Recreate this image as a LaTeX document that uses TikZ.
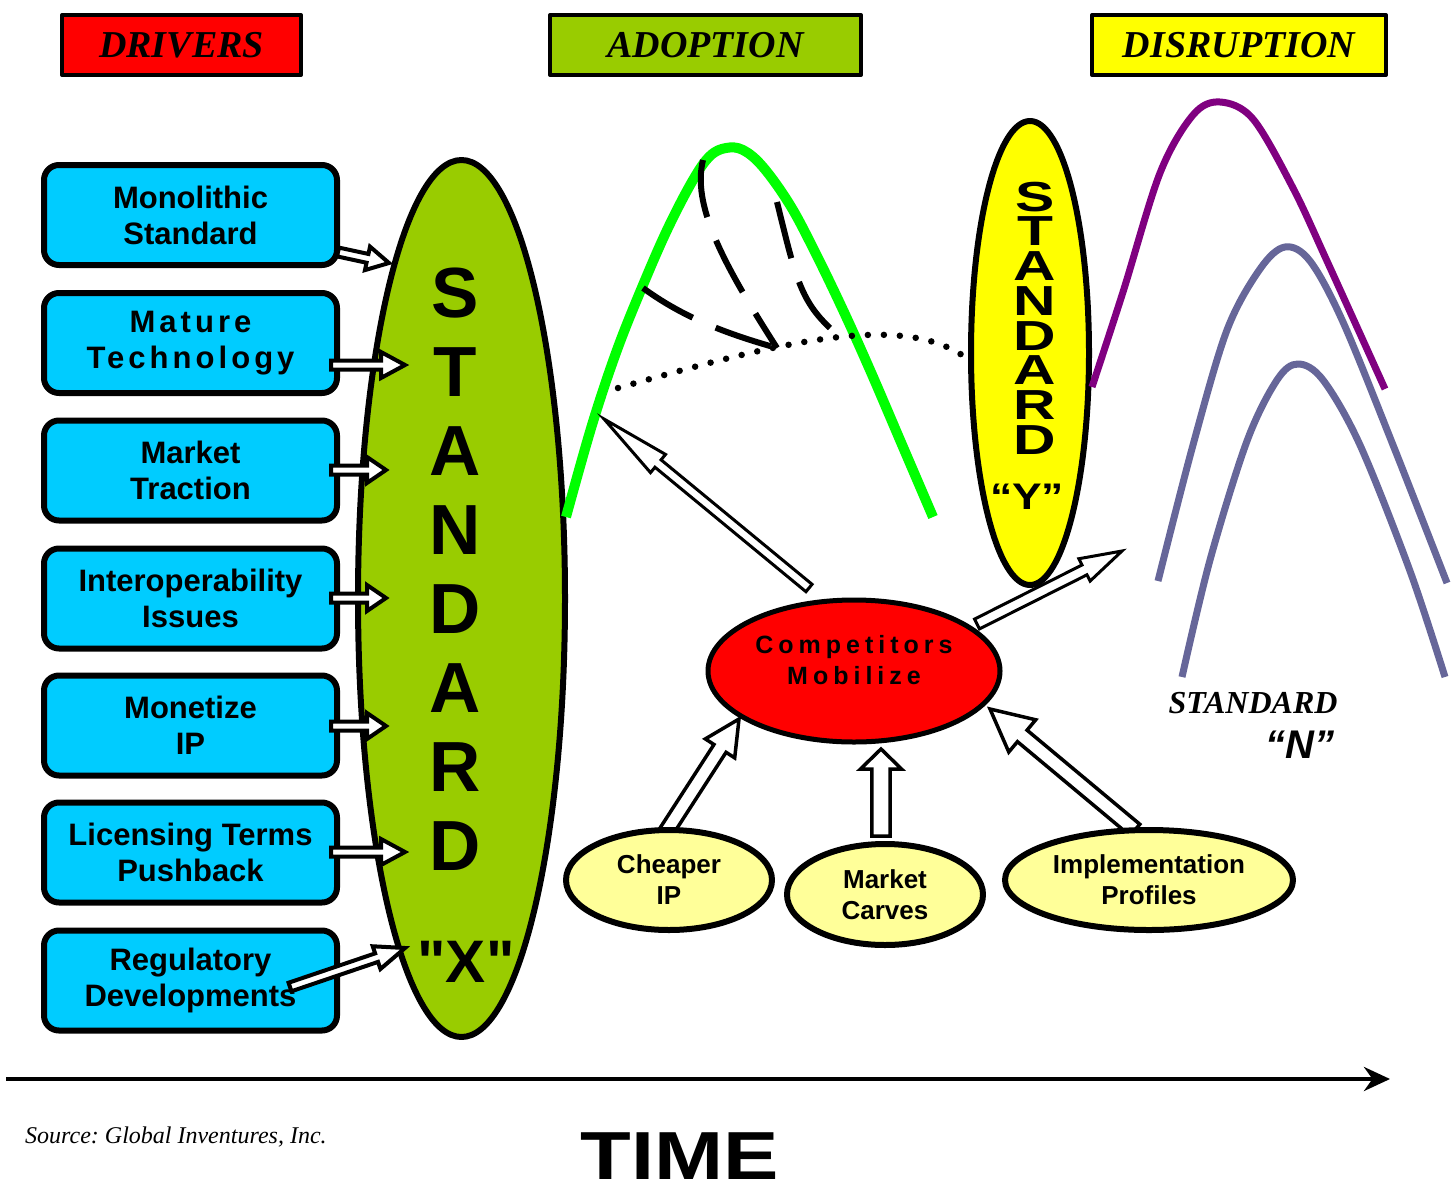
\documentclass[tikz,border=0pt]{standalone}
\usepackage{fontspec}
\setmainfont{Liberation Sans}
\newfontfamily\serifface{Liberation Serif}
\newfontfamily\plainsans{Liberation Sans}
\usepackage{graphicx}
\usetikzlibrary{arrows.meta,calc,shapes.geometric}

\definecolor{driverred}{HTML}{FF0000}
\definecolor{adoptgreen}{HTML}{99CC00}
\definecolor{disyellow}{HTML}{FFFF00}
\definecolor{drvblue}{HTML}{00CCFF}
\definecolor{bellgreen}{HTML}{00FF00}
\definecolor{bellpurple}{HTML}{800080}
\definecolor{belllavender}{HTML}{666699}
\definecolor{paleyellow}{HTML}{FFFF99}

\newcommand\drvfont{\fontsize{31}{36}\selectfont\bfseries}
\newcommand\ovalfont{\fontsize{26}{31}\selectfont\bfseries}

% block arrow: [style]{tail}{tip}{half shaft}{half head}{head length}
\newcommand\fatarrow[6][]{%
  \coordinate (fa-base) at ($(#3)!#6!(#2)$);
  \draw[fatarrow,#1] ($(#2)!#4!90:(#3)$) -- ($(fa-base)!#4!90:(#3)$)
    -- ($(fa-base)!#5!90:(#3)$) -- (#3) -- ($(fa-base)!#5!-90:(#3)$)
    -- ($(fa-base)!#4!-90:(#3)$) -- ($(#2)!#4!-90:(#3)$) -- cycle;}

\begin{document}
\frenchspacing
\begin{tikzpicture}[x=1pt,y=-1pt,line join=round,
  titlebox/.style={draw,line width=4pt,minimum height=60pt,inner sep=0pt,
    font=\serifface\fontsize{38}{38}\selectfont\bfseries\itshape},
  drvbox/.style={draw,line width=6pt,fill=drvblue,rounded corners=15pt,
    minimum width=293pt,minimum height=100pt,inner sep=0pt,align=center,font=\drvfont},
  bigletter/.style={inner sep=0pt,text height=51pt,text depth=0pt,
    font=\fontsize{71}{71}\selectfont\bfseries},
  smallletter/.style={inner sep=0pt,text height=30pt,text depth=0pt,
    font=\fontsize{42}{42}\selectfont\bfseries},
  oval/.style={ellipse,draw,line width=6pt,fill=paleyellow,inner sep=0pt,
    align=center,font=\ovalfont},
  fatarrow/.style={draw=black,fill=white,line width=3pt,line join=miter},
  drvarrow/.style={line width=4pt},
  dashline/.style={line width=6pt,dash pattern=on 58pt off 25pt,line cap=butt},
  dotline/.style={line width=6.5pt,line cap=round,dash pattern=on 0pt off 16pt},
  bell/.style={line width=7pt,line cap=butt}]
  \useasboundingbox (0,0) rectangle (1451,1186);

  % headings
  \node[titlebox,fill=driverred,minimum width=239pt] (drivers) at (181.5,45) {DRIVERS};
  \node[titlebox,fill=adoptgreen,minimum width=311pt] (adoption) at (705.5,45) {ADOPTION};
  \node[titlebox,fill=disyellow,minimum width=294pt] (disruption) at (1239,45) {DISRUPTION};

  % standard X
  \node[ellipse,draw,line width=6pt,fill=adoptgreen,minimum width=207pt,
    minimum height=877pt,inner sep=0pt] (stdx) at (461.5,598.5) {};
  \foreach \ch [count=\i] in {S,T,A,N,D,A,R,D}
    \node[bigletter] (sx\i) at (455,{213+79*\i}) {\ch};
  \node[inner sep=0pt,font=\plainsans\fontsize{60}{60}\selectfont\bfseries] (xname) at (466,962) {"X"};

  % drivers
  \node[drvbox] (mono) at (190.5,215) {Monolithic\\Standard};
  \node[drvbox,font=\drvfont\addfontfeature{LetterSpace=13}] (mature) at (190.5,343) {Mature\\Technology};
  \node[drvbox] (traction) at (190.5,470.5) {Market\\Traction};
  \node[drvbox] (interop) at (190.5,598.5) {Interoperability\\Issues};
  \node[drvbox] (monetize) at (190.5,725.5) {Monetize\\IP};
  \node[drvbox] (licensing) at (190.5,852.5) {Licensing Terms\\Pushback};
  \node[drvbox] (regulatory) at (190.5,980.5) {Regulatory\\Developments};

  \coordinate (monotail) at (338,252);
  \coordinate (monotip) at (389,263);
  \coordinate (maturetail) at (331,365);
  \coordinate (maturetip) at (405,365);
  \coordinate (tractiontail) at (331,470);
  \coordinate (tractiontip) at (386,470);
  \coordinate (interoptail) at (331,598);
  \coordinate (interoptip) at (386,598);
  \coordinate (monetizetail) at (331,726);
  \coordinate (monetizetip) at (386,726);
  \coordinate (licensingtail) at (331,852);
  \coordinate (licensingtip) at (405,852);
  \coordinate (regulatorytail) at (290,987);
  \coordinate (regulatorytip) at (405,948);
  \fatarrow[drvarrow]{monotail}{monotip}{4.5pt}{12pt}{22pt}
  \fatarrow[drvarrow]{maturetail}{maturetip}{4.5pt}{13pt}{24pt}
  \fatarrow[drvarrow]{tractiontail}{tractiontip}{4.5pt}{13pt}{19pt}
  \fatarrow[drvarrow]{interoptail}{interoptip}{4.5pt}{13pt}{19pt}
  \fatarrow[drvarrow]{monetizetail}{monetizetip}{4.5pt}{13pt}{19pt}
  \fatarrow[drvarrow]{licensingtail}{licensingtip}{4.5pt}{13pt}{24pt}
  \fatarrow[drvarrow]{regulatorytail}{regulatorytip}{4.5pt}{12pt}{30pt}

  % adoption curve
  \draw[bellgreen,line width=10pt,line cap=butt] plot[smooth,tension=0.6] coordinates
    {(566,517) (592,425) (617,350) (643,285) (668,228) (693,180) (710,156) (726,148)
     (743,150) (763,167) (790,205) (815,252) (843,310) (870,370) (900,440) (933,517)};
  \coordinate (meet) at (777,348);
  \draw[dashline] (643,288) .. controls (680,315) and (720,332) .. (meet);
  \draw[dashline] (703,160) .. controls (692,205) and (722,262) .. (meet);
  \draw[dashline] (777,202) .. controls (795,275) and (800,300) .. (830,328);
  \draw[dotline] (618,388) .. controls (780,342) and (900,312) .. (965,357);

  % standard Y
  \node[ellipse,draw,line width=6pt,fill=disyellow,minimum width=118pt,
    minimum height=464pt,inner sep=0pt] (stdy) at (1030,353) {};
  \foreach \ch [count=\i] in {S,T,A,N,D,A,R,D}
    \node[smallletter] (sy\i) at (1035,{161.25+34.75*\i}) {\scalebox{1.4}[1]{\ch}};
  \node[inner sep=0pt,font=\fontsize{37}{37}\selectfont\bfseries] (yname) at (1027,497) {\scalebox{1.2}[1]{“Y”}};

  % disruption curves
  \draw[bell,bellpurple] plot[smooth,tension=0.55] coordinates
    {(1092,387) (1123,292) (1160,173) (1193,115) (1220,102) (1253,119) (1293,188) (1327,261) (1385,389)};
  \draw[bell,belllavender] plot[smooth,tension=0.55] coordinates
    {(1158,581) (1193,445) (1227,330) (1260,269) (1285,247) (1310,261) (1343,322) (1393,445) (1447,583)};
  \draw[bell,belllavender] plot[smooth,tension=0.55] coordinates
    {(1182,677) (1210,560) (1247,441) (1277,380) (1298,364) (1323,380) (1360,445) (1410,571) (1445,677)};
  \node[inner sep=0pt,font=\serifface\fontsize{32}{32}\selectfont\bfseries\itshape] (stdnname) at (1253,703) {STANDARD};
  \node[inner sep=0pt,font=\fontsize{40}{40}\selectfont\bfseries\itshape] (nname) at (1300,745) {“N”};

  % competitors
  \node[ellipse,draw,line width=5pt,fill=driverred,minimum width=292pt,
    minimum height=142pt,inner sep=0pt] (comp) at (854,671) {};
  \node[align=center,inner sep=0pt,
    font=\fontsize{25}{31}\selectfont\bfseries\addfontfeature{LetterSpace=20}] (comptext) at (854,660) {Competitors\\Mobilize};

  \coordinate (curvetail) at (809,588);
  \coordinate (curvetip) at (604,419);
  \coordinate (righttail) at (977,624);
  \coordinate (righttip) at (1122,551);
  \coordinate (cheapertail) at (666,832);
  \coordinate (cheapertip) at (739,719);
  \coordinate (carvestail) at (881,836);
  \coordinate (carvestip) at (881,749);
  \coordinate (profilestail) at (1135,830);
  \coordinate (profilestip) at (990,709);
  \fatarrow{curvetail}{curvetip}{4.8pt}{11.8pt}{70pt}
  \fatarrow{righttail}{righttip}{5.5pt}{12.5pt}{42pt}
  \fatarrow[line width=3.5pt]{cheapertail}{cheapertip}{7.2pt}{17.5pt}{35pt}
  \fatarrow[line width=3.5pt]{carvestail}{carvestip}{9.2pt}{20.5pt}{20pt}
  \fatarrow[line width=3.5pt]{profilestail}{profilestip}{7.5pt}{21pt}{42pt}

  \node[oval,minimum width=206pt,minimum height=100pt] (cheaper) at (669,880) {Cheaper\\IP};
  \node[oval,minimum width=196pt,minimum height=101pt] (carves) at (885,894.5) {Market\\Carves};
  \node[oval,minimum width=288pt,minimum height=100pt] (profiles) at (1149,880) {Implementation\\Profiles};

  % time axis
  \coordinate (tstart) at (6,1079);
  \coordinate (tend) at (1390,1079);
  \draw[line width=4pt,-{Stealth[length=26pt,width=24pt]}] (tstart) -- (tend);
  \node[inner sep=0pt,text height=49pt,text depth=0pt,font=\fontsize{68}{68}\selectfont\bfseries] (time) at (680,1155) {\scalebox{1.22}[1]{TIME}};
  \node[anchor=west,inner sep=0pt,font=\serifface\fontsize{24}{24}\selectfont\itshape] (source) at (25,1137) {Source: Global Inventures, Inc.};
\end{tikzpicture}
\end{document}
